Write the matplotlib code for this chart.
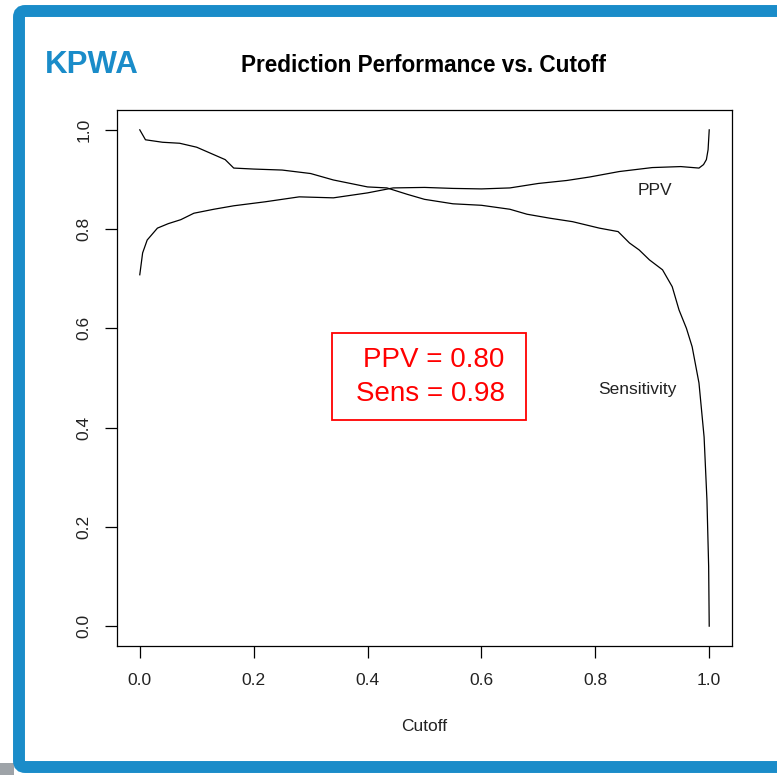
"""Prediction performance (PPV and sensitivity) against the cutoff, KPWA panel."""

import matplotlib
matplotlib.use("Agg")
import matplotlib.pyplot as plt
from matplotlib.patches import FancyBboxPatch, Rectangle

plt.rcParams["font.family"] = ["Liberation Sans", "DejaVu Sans"]

W, H = 777, 775
BLUE = "#1a8cc9"

# values
cutoff_ppv = [0.0, 0.005, 0.013, 0.031, 0.05, 0.072, 0.095, 0.13, 0.165, 0.22,
              0.28, 0.34, 0.40, 0.445, 0.50, 0.55, 0.60, 0.65, 0.70, 0.75,
              0.79, 0.842, 0.90, 0.95, 0.982, 0.99, 0.995, 0.998, 1.0]
ppv = [0.708, 0.752, 0.778, 0.802, 0.811, 0.819, 0.832, 0.840, 0.847, 0.855,
       0.865, 0.863, 0.873, 0.883, 0.884, 0.882, 0.881, 0.883, 0.892, 0.898,
       0.905, 0.916, 0.924, 0.926, 0.923, 0.930, 0.940, 0.960, 1.0]

cutoff_sens = [0.0, 0.005, 0.01, 0.04, 0.07, 0.10, 0.124, 0.15, 0.165, 0.20,
               0.25, 0.30, 0.34, 0.40, 0.434, 0.47, 0.50, 0.55, 0.60, 0.65,
               0.68, 0.72, 0.76, 0.807, 0.84, 0.86, 0.877, 0.895, 0.918, 0.935,
               0.947, 0.96, 0.97, 0.982, 0.991, 0.996, 0.999, 1.0]
sens = [1.0, 0.99, 0.98, 0.975, 0.973, 0.965, 0.953, 0.94, 0.923, 0.921,
        0.919, 0.912, 0.899, 0.885, 0.883, 0.87, 0.86, 0.851, 0.848, 0.84,
        0.83, 0.822, 0.815, 0.802, 0.795, 0.772, 0.758, 0.738, 0.718, 0.684,
        0.637, 0.60, 0.563, 0.49, 0.381, 0.254, 0.12, 0.0]

ticks = [0.0, 0.2, 0.4, 0.6, 0.8, 1.0]
tick_labels = ["0.0", "0.2", "0.4", "0.6", "0.8", "1.0"]
ppv_at_cut = 0.80
sens_at_cut = 0.98


def fx(px):
    return px / W


def fy(py):
    return 1 - py / H


def main():
    fig = plt.figure(figsize=(W / 100, H / 100), dpi=100)

    # page background strip and blue frame
    fig.patches.append(Rectangle((0, 0), fx(14), fy(763), transform=fig.transFigure,
                                 facecolor="#9ea3a8", edgecolor="none", zorder=0))
    fig.patches.append(FancyBboxPatch((fx(19), fy(767)), fx(820) - fx(19), fy(11) - fy(767),
                                      boxstyle="round,pad=0,rounding_size=0.008",
                                      transform=fig.transFigure, facecolor="white",
                                      edgecolor=BLUE, linewidth=8.6, zorder=1))

    ax = fig.add_axes([fx(117), fy(646), fx(732) - fx(117), fy(110) - fy(646)])
    ax.set_zorder(2)
    ax.plot(cutoff_ppv, ppv, color="black", linewidth=0.9)
    ax.plot(cutoff_sens, sens, color="black", linewidth=0.9)
    ax.set_xlim(-0.04, 1.04)
    ax.set_ylim(-0.04, 1.04)

    ax.set_xticks(ticks)
    ax.set_xticklabels(tick_labels)
    ax.set_yticks(ticks)
    ax.set_yticklabels(tick_labels, rotation=90, va="center", ha="right")
    ax.tick_params(length=8.5, width=0.9, labelsize=12.5, labelcolor="#222222")
    ax.tick_params(axis="x", pad=11)
    ax.tick_params(axis="y", pad=10)
    for sp in ax.spines.values():
        sp.set_linewidth(0.9)

    ax.set_xlabel("Cutoff", fontsize=12.5, color="#222222", va="center")
    ax.xaxis.set_label_coords(0.5, -0.151)

    ax.text(0.905, 0.877, "PPV", fontsize=12.5, color="#222222", ha="center", va="center")
    ax.text(0.874, 0.476, "Sensitivity", fontsize=12.5, color="#222222",
            ha="center", va="center")

    ax.add_patch(Rectangle((0.338, 0.415), 0.340, 0.176, facecolor="none",
                           edgecolor="red", linewidth=1.3))
    ax.text(0.641, 0.536, f"PPV = {ppv_at_cut:.2f}", fontsize=20, color="red",
            ha="right", va="center")
    ax.text(0.641, 0.468, f"Sens = {sens_at_cut:.2f}", fontsize=20, color="red",
            ha="right", va="center")

    fig.text(fx(424), fy(65), "Prediction Performance vs. Cutoff", fontsize=16.3,
             fontweight="bold", ha="center", va="center", zorder=3)
    fig.text(fx(45), fy(65), "KPWA", fontsize=22.5, fontweight="bold", color=BLUE,
             ha="left", va="center", zorder=3)

    fig.savefig("out.png", dpi=100)
    plt.close(fig)


if __name__ == "__main__":
    main()
